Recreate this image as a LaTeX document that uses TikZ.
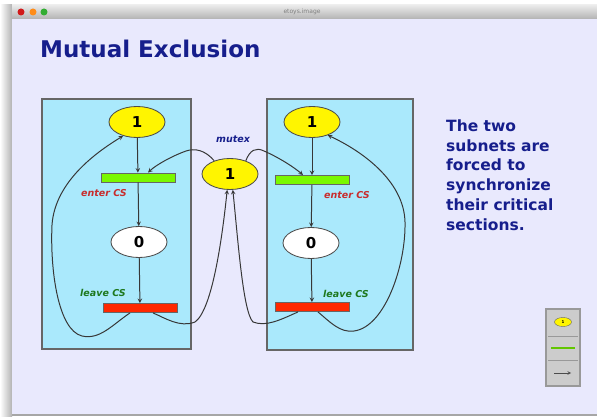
\documentclass[tikz,border=0pt]{standalone}
\usepackage{fontspec}
\setmainfont{DejaVu Sans}
\usetikzlibrary{shapes.geometric, arrows}
\definecolor{lavender}{RGB}{233, 233, 253}
\definecolor{subnetcolor}{RGB}{170, 233, 252}
\definecolor{titleblue}{RGB}{22, 30, 140}
\definecolor{tokenyellow}{RGB}{255, 245, 0}
\definecolor{entergreen}{RGB}{122, 248, 0}
\definecolor{leavered}{RGB}{255, 40, 0}
\definecolor{lblred}{RGB}{200, 45, 45}
\definecolor{lblgreen}{RGB}{30, 120, 30}
\definecolor{edgegray}{RGB}{55, 55, 55}
\tikzstyle{subnet} = [draw=black!60, fill=subnetcolor, line width=0.5mm]
\tikzstyle{place} = [ellipse, draw=black!70, line width=0.3mm,
                     minimum width=56pt, minimum height=31pt, inner sep=0pt,
                     font=\bfseries\fontsize{15}{15}\selectfont]
\tikzstyle{trans} = [rectangle, draw=black!60, line width=0.3mm,
                     minimum width=74pt, minimum height=9pt, inner sep=0pt]
\tikzstyle{lbl} = [font=\bfseries\itshape\fontsize{9.5}{10}\selectfont]
\tikzstyle{arrow} = [line width=0.35mm, draw=edgegray, ->, >=stealth]

\begin{document}
\begin{tikzpicture}[x=1pt, y=-1pt]
        \useasboundingbox (0,0) rectangle (597,417);

        %Window frame
        \fill[white] (0,0) rectangle (597,417);
        \shade[left color=white, right color=black!30] (0,5) rectangle (12,417);
        \shade[top color=black!8, bottom color=black!30] (12,5) rectangle (597,19);
        \fill[lavender] (12,19) rectangle (597,415);
        \draw[black!35, line width=0.4mm] (12,415) -- (597,415);
        \fill[red!80!black!90] (21,12) circle (3.5);
        \fill[orange!90] (33,12) circle (3.5);
        \fill[green!60!black!80] (44,12) circle (3.5);
        \node (WinTitle) at (302,12) [text=black!50, font=\fontsize{6}{6}\selectfont] {etoys.image};

        %Title and comment
        \node (Title) at (40,49) [anchor=west, inner sep=0pt, text=titleblue,
              font=\bfseries\fontsize{23}{23}\selectfont] {Mutual Exclusion};
        \node (Note) at (446,175) [anchor=west, inner sep=0pt, text=titleblue, align=left,
              font=\bfseries\fontsize{15.5}{19.8}\selectfont]
              {The two\\subnets are\\forced to\\synchronize\\their critical\\sections.};

        %Subnets
        \draw[subnet] (42,99) rectangle (191,349);
        \draw[subnet] (267,99) rectangle (413,350);

        %Left subnet
        \node (TopL) [place, fill=tokenyellow] at (137,122) {1};
        \node (EnterL) [trans, fill=entergreen] at (138,177.5) {};
        \node (ZeroL) [place, fill=white] at (139,242) {0};
        \node (LeaveL) [trans, fill=leavered] at (140,308) {};
        \node (EnterLblL) [lbl, text=lblred] at (104,193) {enter CS};
        \node (LeaveLblL) [lbl, text=lblgreen] at (103,293) {leave CS};

        %Right subnet
        \node (TopR) [place, fill=tokenyellow] at (312,122) {1};
        \node (EnterR) [trans, fill=entergreen] at (312,180) {};
        \node (ZeroR) [place, fill=white] at (311,243) {0};
        \node (LeaveR) [trans, fill=leavered] at (312,307) {};
        \node (EnterLblR) [lbl, text=lblred] at (347,195) {enter CS};
        \node (LeaveLblR) [lbl, text=lblgreen] at (346,294) {leave CS};

        %Mutex place
        \node (Mutex) [place, fill=tokenyellow] at (230,174) {1};
        \node (MutexLbl) [lbl, text=titleblue] at (233,139) {mutex};

        %Arcs inside subnets
        \draw [arrow] (TopL) -- (EnterL);
        \draw [arrow] (EnterL) -- (ZeroL);
        \draw [arrow] (ZeroL) -- (LeaveL);
        \draw [arrow] (TopR) -- (EnterR);
        \draw [arrow] (EnterR) -- (ZeroR);
        \draw [arrow] (ZeroR) -- (LeaveR);

        %Loops back to the top places
        \draw [arrow] ([xshift=-10pt]LeaveL.south) .. controls (112,325) and (100,340) .. (82,336)
              .. controls (58,330) and (50,270) .. (52,225)
              .. controls (55,180) and (100,150) .. (TopL.-135);
        \draw [arrow] ([xshift=6pt]LeaveR.south) .. controls (330,322) and (340,333) .. (354,331)
              .. controls (385,327) and (406,265) .. (405,222)
              .. controls (404,180) and (360,150) .. (TopR.-40);

        %Mutex to enter transitions
        \draw [arrow] (Mutex.140) .. controls (205,150) and (195,148) .. (186,151)
              .. controls (172,156) and (156,165) .. ([xshift=10pt]EnterL.north);
        \draw [arrow] (Mutex.40) .. controls (250,150) and (256,147) .. (264,151)
              .. controls (280,158) and (295,168) .. ([xshift=-9pt]EnterR.north);

        %Leave transitions back to mutex
        \draw [arrow] ([xshift=13pt]LeaveL.south) .. controls (165,318) and (180,328) .. (195,322)
              .. controls (212,310) and (222,240) .. (Mutex.-100);
        \draw [arrow] ([xshift=-14pt]LeaveR.south) .. controls (280,320) and (266,327) .. (253,322)
              .. controls (243,312) and (238,240) .. (Mutex.-80);

        %Palette
        \draw[black!40, fill=black!20, line width=0.5mm] (546,309) rectangle (580,386);
        \draw[black!40, line width=0.3mm] (548,336) -- (578,336);
        \draw[black!40, line width=0.3mm] (548,360) -- (578,360);
        \node (PalPlace) [ellipse, draw=black!60, fill=tokenyellow, minimum width=17pt,
              minimum height=9pt, inner sep=0pt, font=\bfseries\fontsize{4}{4}\selectfont] at (563,322) {1};
        \draw[entergreen!80!black, line width=0.5mm] (551,348) -- (575,348);
        \draw[black!70, line width=0.2mm, -stealth] (554,373) -- (571,373);
    \end{tikzpicture}
\end{document}
